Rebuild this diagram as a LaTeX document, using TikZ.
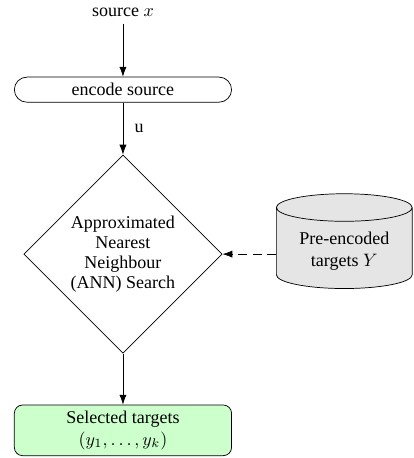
\documentclass[tikz,border=0pt]{standalone}
\usepackage{fontspec}
\setmainfont{Liberation Serif}
\usetikzlibrary{shapes, arrows.meta, positioning}

\tikzset{
  block/.style={draw, rounded corners=0.245cm, minimum width=4.24cm, minimum height=0.49cm, inner sep=1pt},
  decision/.style={draw, diamond, aspect=1, minimum size=3.87cm, inner sep=0pt, align=center, font=\fontsize{10}{11}\selectfont},
  store/.style={draw, cylinder, shape border rotate=90, shape aspect=0.27, fill=gray!20, minimum height=1.85cm, minimum width=2.65cm, align=center},
  result/.style={draw, rounded corners=0.16cm, fill=green!20, minimum width=4.24cm, minimum height=0.96cm, align=center},
  line/.style={draw, -{Latex[length=5.5pt, width=4pt]}}
}

\begin{document}
\begin{tikzpicture}
    % fixed page size
    \path[use as bounding box] (0,0) rectangle (8.08,-8.94);

    \node (src) at (2.40,-0.25) {source $x$};
    \node[block] (enc) at (2.40,-1.75) {encode source};
    \node[decision] (ann) at (2.40,-4.96) {Approximated\\Nearest\\Neighbour\\(ANN) Search};
    \node[store] (db) at (6.72,-4.90) {Pre-encoded\\targets $Y$};
    \node[result] (sel) at (2.40,-8.40) {Selected targets\\$(y_1,\ldots,y_k)$};

    \path[line] (src) -- (enc);
    \path[line] (enc) -- node[right, xshift=3pt] {u} (ann);
    \path[line, dash pattern=on 5pt off 3pt] (db.west |- ann.east) -- (ann.east);
    \path[line] (ann) -- (sel);
\end{tikzpicture}
\end{document}
